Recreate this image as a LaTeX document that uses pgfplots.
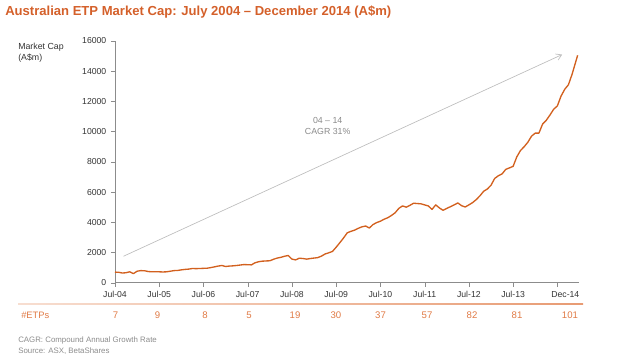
\documentclass[border=0pt]{standalone}
\usepackage{pgfplots}
\pgfplotsset{compat=1.18}
\usepackage{fontspec}
\setmainfont{Liberation Sans}
\usetikzlibrary{arrows.meta}
\definecolor{ttl}{HTML}{D4602A}
\definecolor{ln}{HTML}{D2601E}
\definecolor{etp}{HTML}{E07A45}
\definecolor{axg}{HTML}{8C8C8C}
\definecolor{tk}{HTML}{333333}
\definecolor{arr}{HTML}{BDBDBD}
\definecolor{cg}{HTML}{8A8A8A}
\definecolor{fn}{HTML}{8C8C8C}
\begin{document}
\begin{tikzpicture}[x=0.75pt,y=0.75pt]
\path (0,0) rectangle (640,360);
\node[anchor=west,text=ttl,font=\fontsize{9.8}{11}\selectfont\bfseries,inner sep=0] at (5,348) {Australian ETP Market Cap: July 2004 -- December 2014 (A\$m)};
\node[anchor=north west,align=left,text=tk,font=\fontsize{6.6}{8.2}\selectfont,inner sep=0] at (18,317) {Market Cap\\(A\$m)};
\begin{axis}[
  at={(86.25pt,57.975pt)}, anchor=south west,
  scale only axis, width=347.8pt, height=181.3pt,
  xmin=0, xmax=125.8, ymin=0, ymax=16000,
  axis lines=left, axis line style={axg,-},
  xtick={0,12,24,36,48,60,72,84,96,108,120},
  xticklabels={Jul-04,Jul-05,Jul-06,Jul-07,Jul-08,Jul-09,Jul-10,Jul-11,Jul-12,Jul-13,\hspace{12pt}Dec-14},
  ytick={0,2000,4000,6000,8000,10000,12000,14000,16000},
  scaled y ticks=false,
  tick style={axg},
  tick align=outside, major tick length=3pt,
  tick label style={font=\fontsize{6.5}{7}\selectfont, text=tk},
  /pgf/number format/1000 sep={},
  /pgf/number format/assume math mode=true,
  clip=false,
]
\addplot[arr, line width=0.5pt, -{Straight Barb[length=4pt,width=5pt]}] coordinates {(2.3,1750) (121.3,15100)};
\addplot[ln, line width=1.0pt, line join=round] coordinates {
(0,700) (1,690) (2,640) (3,660) (4,720) (5,600) (6,760) (7,800) (8,790) (9,740) (10,720) (11,730)
(12,720) (13,710) (14,720) (15,760) (16,800) (17,810) (18,850) (19,880) (20,900) (21,940) (22,930) (23,940)
(24,950) (25,960) (26,1000) (27,1050) (28,1100) (29,1140) (30,1070) (31,1100) (32,1115) (33,1140) (34,1170) (35,1200)
(36,1190) (37,1180) (38,1320) (39,1390) (40,1425) (41,1440) (42,1450) (43,1550) (44,1630) (45,1680) (46,1750) (47,1800)
(48,1560) (49,1510) (50,1620) (51,1600) (52,1560) (53,1600) (54,1630) (55,1660) (56,1760) (57,1900) (58,1980) (59,2070)
(60,2350) (61,2650) (62,2960) (63,3300) (64,3400) (65,3480) (66,3600) (67,3700) (68,3750) (69,3620) (70,3850) (71,3980)
(72,4070) (73,4200) (74,4300) (75,4450) (76,4630) (77,4920) (78,5080) (79,5000) (80,5120) (81,5260) (82,5240) (83,5220)
(84,5150) (85,5080) (86,4850) (87,5150) (88,4950) (89,4790) (90,4920) (91,5030) (92,5150) (93,5280) (94,5100) (95,5010)
(96,5150) (97,5300) (98,5500) (99,5750) (100,6050) (101,6200) (102,6450) (103,6900) (104,7080) (105,7200) (106,7500) (107,7600)
(108,7700) (109,8330) (110,8750) (111,9000) (112,9300) (113,9700) (114,9900) (115,9900) (116,10500) (117,10750) (118,11100) (119,11480)
(120,11700) (121,12350) (122,12800) (123,13100) (124,13800) (125.5,15050)
};
\node[align=center,text=cg,font=\fontsize{6.6}{8.2}\selectfont] at (axis cs:57.7,10360) {04 -- 14\\CAGR 31\%};
\end{axis}
\shade[left color=etp!25, right color=etp!75] (18,55.6) rectangle (583,56.6);
\node[anchor=west,text=etp,font=\fontsize{7}{8}\selectfont,inner sep=0] at (21,45) {\#ETPs};
\begin{scope}[every node/.style={text=etp,font=\fontsize{7.2}{8}\selectfont,inner sep=0}]
\node at (115.6,45) {7};
\node at (157.6,45) {9};
\node at (205,45) {8};
\node at (249,45) {5};
\node at (295,45) {19};
\node at (336,45) {30};
\node at (380.5,45) {37};
\node at (427,45) {57};
\node at (472,45) {82};
\node at (517,45) {81};
\node at (570,45) {101};
\end{scope}
\node[anchor=west,text=fn,font=\fontsize{5.9}{7}\selectfont,inner sep=0] at (18,20) {CAGR: Compound Annual Growth Rate};
\node[anchor=west,text=fn,font=\fontsize{5.9}{7}\selectfont,inner sep=0] at (18,9) {Source: ASX, BetaShares};
\end{tikzpicture}
\end{document}
